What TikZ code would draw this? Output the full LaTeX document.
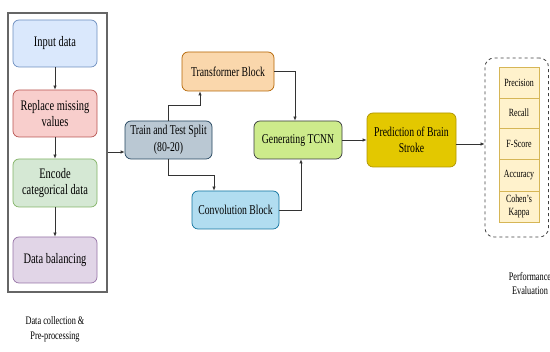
\documentclass[tikz,border=0pt]{standalone}
\usepackage{fontspec}
\setmainfont[FakeStretch=0.72]{Liberation Serif}
\usetikzlibrary{arrows.meta}
\definecolor{inF}{HTML}{DAE8FC}\definecolor{inD}{HTML}{6C8EBF}
\definecolor{reF}{HTML}{F8CECC}\definecolor{reD}{HTML}{B85450}
\definecolor{enF}{HTML}{D5E8D4}\definecolor{enD}{HTML}{82B366}
\definecolor{dbF}{HTML}{E1D5E7}\definecolor{dbD}{HTML}{9673A6}
\definecolor{trF}{HTML}{BAC8D3}\definecolor{trD}{HTML}{23445D}
\definecolor{tfF}{HTML}{FAD7AC}\definecolor{tfD}{HTML}{B46504}
\definecolor{cvF}{HTML}{B1DDF0}\definecolor{cvD}{HTML}{10739E}
\definecolor{gnF}{HTML}{CDEB8B}\definecolor{gnD}{HTML}{36393D}
\definecolor{prF}{HTML}{E3C800}\definecolor{prD}{HTML}{B09500}
\definecolor{mtF}{HTML}{FFF2CC}\definecolor{mtD}{HTML}{D6B656}
\definecolor{arrC}{HTML}{333333}
\tikzset{
  box/.style={draw, rounded corners=6pt, line width=0.7pt, align=center, inner sep=1pt},
  leftbox/.style={box, minimum width=84pt, minimum height=47pt, font=\fontsize{14.5}{16}\selectfont},
  midbox/.style={box, minimum width=87pt, minimum height=38pt, font=\fontsize{13.5}{16.5}\selectfont},
  metric/.style={draw=mtD, fill=mtF, line width=0.6pt, minimum width=40pt, inner sep=0pt, align=center, font=\fontsize{11}{13}\selectfont},
  caption/.style={align=center, font=\fontsize{11.5}{15}\selectfont},
  arr/.style={draw=arrC, line width=0.7pt, -{Latex[length=4pt,width=3.5pt]}},
}
\begin{document}
\begin{tikzpicture}[x=1pt,y=-1pt]
\useasboundingbox (0,0) rectangle (550,352);
% preprocessing
\node[draw=black!60, line width=1.1pt, minimum width=99pt, minimum height=279pt] (outer) at (57.5,152.5) {};
\node[leftbox, fill=inF, draw=inD] (inp) at (55,43.5) {Input data};
\node[leftbox, fill=reF, draw=reD] (rep) at (55,113.5) {Replace missing\\values};
\node[leftbox, fill=enF, draw=enD, minimum height=48pt] (enc) at (55,183) {Encode\\categorical data};
\node[leftbox, fill=dbF, draw=dbD, minimum height=46pt] (dbal) at (55,260) {Data balancing};
\node[caption] (cap1) at (55,329) {Data collection \&\\Pre-processing};
\draw[arr] (inp) -- (rep);
\draw[arr] (rep) -- (enc);
\draw[arr] (enc) -- (dbal);
% middle
\node[midbox, fill=trF, draw=trD] (split) at (168.5,140) {Train and Test Split\\(80-20)};
\node[midbox, fill=tfF, draw=tfD, minimum width=92pt, minimum height=39pt] (trans) at (228,71.5) {Transformer Block};
\node[midbox, fill=cvF, draw=cvD] (conv) at (235.5,210) {Convolution Block};
\node[midbox, fill=gnF, draw=gnD, minimum width=88pt] (gen) at (298,140) {Generating TCNN};
\node[midbox, fill=prF, draw=prD, minimum width=89pt, minimum height=54pt] (pred) at (411.5,140) {Prediction of Brain\\Stroke};
\coordinate (inA) at ([yshift=-12pt]split.west);
\draw[arr] (outer.east |- inA) -- (inA);
\draw[arr] (split.north) -- ++(0,-15) -| ([xshift=-28pt]trans.south);
\draw[arr] (split.south) -- ++(0,16) -| ([xshift=-21.5pt]conv.north);
\draw[arr] (trans.east) -| ([xshift=-3pt]gen.north);
\draw[arr] (conv.east) -| ([xshift=3pt]gen.south);
\draw[arr] (gen.east) -- (pred.west);
% evaluation
\node[draw=black!75, dashed, line width=0.8pt, rounded corners=9pt, minimum width=63.5pt, minimum height=179pt] (eval) at (516.75,147.5) {};
\coordinate (outA) at ([yshift=-4pt]pred.east);
\draw[arr] (outA) -- (eval.west |- outA);
\node[metric, minimum height=31pt] (m1) at (519,82.5) {Precision};
\node[metric, minimum height=30pt] (m2) at (519,113) {Recall};
\node[metric, minimum height=31pt] (m3) at (519,143.5) {F-Score};
\node[metric, minimum height=32pt] (m4) at (519,175) {Accuracy};
\node[metric, minimum height=31pt] (m5) at (519,206.5) {Cohen's\\Kappa};
\node[caption, font=\fontsize{11.5}{13.5}\selectfont] (cap2) at (530,283.5) {Performance\\Evaluation};
\end{tikzpicture}
\end{document}
